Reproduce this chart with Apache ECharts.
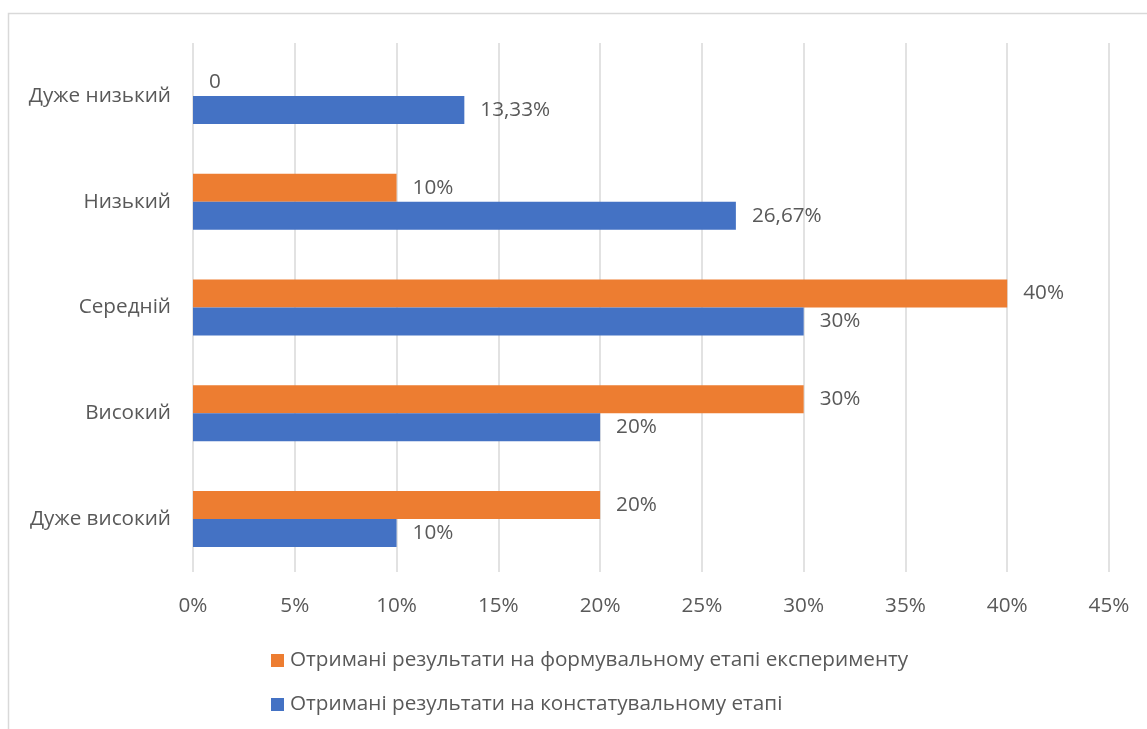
<!DOCTYPE html>
<html>
<head>
<meta charset="utf-8">
<script src="https://cdn.jsdelivr.net/npm/echarts@6/dist/echarts.min.js"></script>
<style>html,body{margin:0;padding:0;background:#fff;}#c{width:1147px;height:729px;}</style>
</head>
<body>
<div id="c"></div>
<script>
const categories = ['Дуже високий', 'Високий', 'Середній', 'Низький', 'Дуже низький'];
const formativeValues = [20, 30, 40, 10, 0];
const constativeValues = [10, 20, 30, 26.67, 13.33];
const seriesNames = ['Отримані результати на формувальному етапі експерименту', 'Отримані результати на констатувальному етапі'];
const xTicks = { min: 0, max: 45, interval: 5 };

const FONT = 'Open Sans';
const TXT = '#595959';
const FS = 20.7;
function fmt(v) {
  if (v === 0) return '0';
  return String(v).replace('.', ',') + '%';
}
const chart = echarts.init(document.getElementById('c'));
chart.setOption({
  animation: false,
  textStyle: { fontFamily: FONT },
  graphic: [{
    type: 'rect', shape: { x: 8.5, y: 13.5, width: 1200, height: 800 },
    style: { fill: 'none', stroke: '#d9d9d9', lineWidth: 1.5 }, silent: true
  }],
  grid: { left: 193, right: 38, top: 43, bottom: 157, containLabel: false },
  xAxis: {
    type: 'value', min: xTicks.min, max: xTicks.max, interval: xTicks.interval,
    axisLine: { show: false }, axisTick: { show: false },
    splitLine: { lineStyle: { color: '#d9d9d9', width: 1.5 } },
    axisLabel: { formatter: v => v + '%', color: TXT, fontSize: FS, fontFamily: FONT, margin: 24 }
  },
  yAxis: {
    type: 'category', data: categories,
    axisLine: { show: false }, axisTick: { show: false },
    axisLabel: { color: TXT, fontSize: FS, fontFamily: FONT, margin: 22 }
  },
  legend: {
    orient: 'vertical', left: 266, top: 645, itemWidth: 13, itemHeight: 13, itemGap: 23,
    icon: 'rect', data: [seriesNames[0], seriesNames[1]],
    textStyle: { color: TXT, fontSize: FS, fontFamily: FONT, padding: [0, 0, 0, 1] }
  },
  series: [
    {
      name: seriesNames[0], type: 'bar', data: formativeValues,
      barWidth: 28, barGap: '0%',
      itemStyle: { color: '#ED7D31' },
      label: { show: true, position: 'right', distance: 16, formatter: p => fmt(p.value), color: TXT, fontSize: FS, fontFamily: FONT }
    },
    {
      name: seriesNames[1], type: 'bar', data: constativeValues,
      barWidth: 28, barGap: '0%',
      itemStyle: { color: '#4472C4' },
      label: { show: true, position: 'right', distance: 16, formatter: p => fmt(p.value), color: TXT, fontSize: FS, fontFamily: FONT }
    }
  ]
});
</script>
</body>
</html>
